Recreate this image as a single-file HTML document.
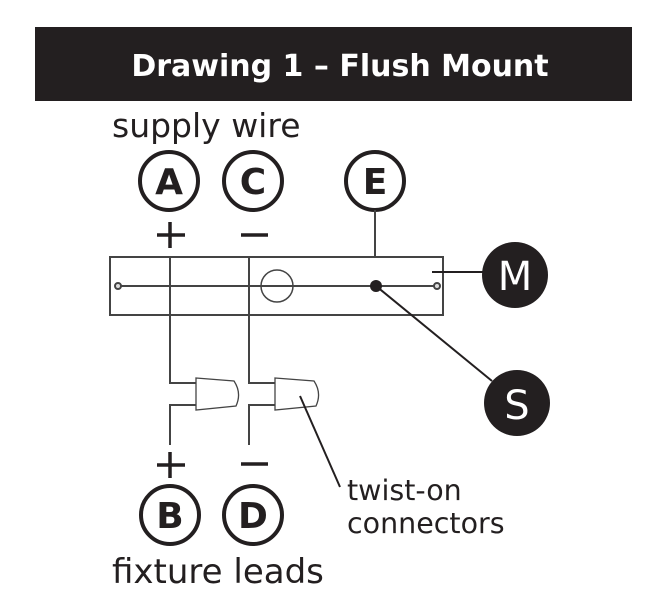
<!DOCTYPE html>
<html><head><style>
body{margin:0;background:#fff;}
svg{display:block;font-family:"DejaVu Sans","Liberation Sans",sans-serif;}
</style></head><body>
<svg width="667" height="598" viewBox="0 0 667 598" xmlns="http://www.w3.org/2000/svg">
<rect x="35" y="27" width="597" height="74" fill="#231f20"/>
<text x="340" y="76" text-anchor="middle" fill="#fff" font-size="30" font-weight="bold">Drawing 1 – Flush Mount</text>
<text x="112" y="137" font-size="33" fill="#231f20">supply wire</text>
<g fill="none" stroke="#231f20" stroke-width="4">
<circle cx="169" cy="181" r="29"/><circle cx="253" cy="181" r="29"/><circle cx="375" cy="181" r="29"/>
<circle cx="170" cy="515" r="29"/><circle cx="253" cy="515" r="29"/>
</g>
<g font-size="36" font-weight="bold" text-anchor="middle" fill="#231f20">
<text x="169" y="194">A</text><text x="253" y="194">C</text><text x="375" y="194">E</text>
<text x="170" y="528">B</text><text x="253" y="528">D</text>
</g>
<g stroke="#231f20" stroke-width="3.5">
<line x1="157" y1="235" x2="185" y2="235"/><line x1="170" y1="222" x2="170" y2="248"/>
<line x1="241" y1="235" x2="268" y2="235"/>
<line x1="157" y1="465" x2="185" y2="465"/><line x1="170" y1="452" x2="170" y2="478"/>
<line x1="241" y1="464" x2="268" y2="464"/>
</g>
<g fill="none" stroke="#444" stroke-width="2">
<rect x="110" y="257" width="333" height="58"/>
<line x1="118" y1="286" x2="437" y2="286"/>
<circle cx="277" cy="286" r="16" stroke-width="1.5"/>
<circle cx="118" cy="286" r="3" fill="#ddd"/><circle cx="437" cy="286" r="3" fill="#ddd"/>
<line x1="375" y1="210" x2="375" y2="257"/>
<polyline points="170,257 170,383 196,383"/>
<polyline points="196,405 170,405 170,445"/>
<polyline points="249,257 249,383 275,383"/>
<polyline points="275,405 249,405 249,445"/>
<path d="M196,378 L234,381 Q242,393 236,406 L196,410 Z" stroke-width="1.3"/>
<path d="M275,378 L314,381 Q322,393 316,406 L275,410 Z" stroke-width="1.3"/>
</g>
<g stroke="#231f20" stroke-width="2">
<line x1="432" y1="272" x2="484" y2="272"/>
<line x1="376" y1="286" x2="492" y2="381"/>
<line x1="300" y1="396" x2="340" y2="487"/>
</g>
<circle cx="376" cy="286" r="6" fill="#231f20"/>
<circle cx="515" cy="275" r="33" fill="#231f20"/>
<circle cx="517" cy="403" r="33" fill="#231f20"/>
<text x="515" y="290" font-size="40" fill="#fff" text-anchor="middle">M</text>
<text x="517" y="419" font-size="40" fill="#fff" text-anchor="middle">S</text>
<text x="347" y="500" font-size="28.5" fill="#231f20">twist-on</text>
<text x="347" y="533" font-size="28.5" fill="#231f20">connectors</text>
<text x="112" y="583" font-size="34" fill="#231f20">fixture leads</text>
</svg>
</body></html>
